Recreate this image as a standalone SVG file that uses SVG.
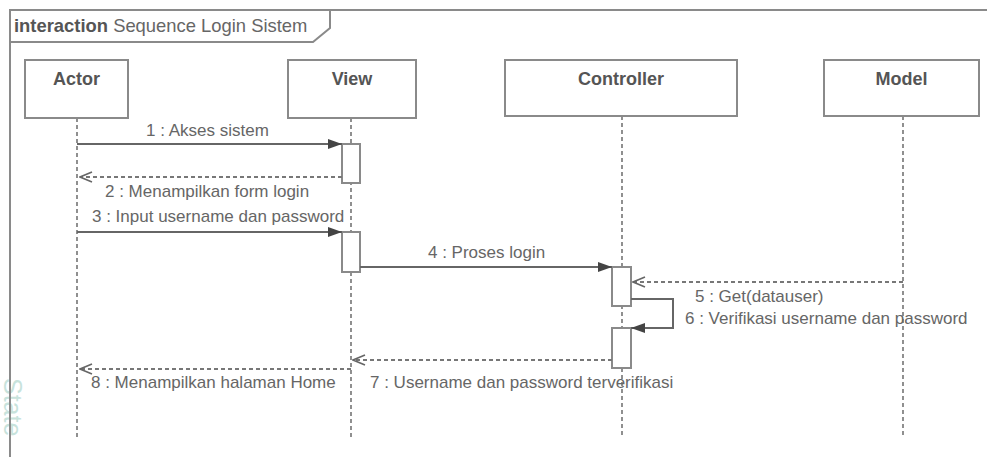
<svg xmlns="http://www.w3.org/2000/svg" width="987" height="457" viewBox="0 0 987 457">
<style>
text{font-family:"Liberation Sans",Arial,sans-serif;fill:#666}
.msg{font-size:17px}
.head{font-size:18px;font-weight:bold;fill:#555;text-anchor:middle}
.box{fill:#fff;stroke:#8a8a8a;stroke-width:2}
.life{stroke:#555;stroke-width:1.3;stroke-dasharray:4 3;fill:none}
.sync{stroke:#666;stroke-width:2;fill:none}
.ret{stroke:#777;stroke-width:2;stroke-dasharray:4 3;fill:none}
.act{fill:#fff;stroke:#8a8a8a;stroke-width:2}
.frame{fill:none;stroke:#8a8a8a;stroke-width:2}
</style>
<defs>
<marker id="fill" viewBox="0 0 14 10" refX="14" refY="5" markerWidth="14" markerHeight="10" markerUnits="userSpaceOnUse" orient="auto">
<path d="M0,0 L14,5 L0,10 Z" fill="#444"/>
</marker>
<marker id="open" viewBox="0 0 14 12" refX="13" refY="6" markerWidth="14" markerHeight="12" markerUnits="userSpaceOnUse" orient="auto">
<path d="M1,1 L13,6 L1,11" fill="none" stroke="#666" stroke-width="1.6"/>
</marker>
</defs>
<rect width="987" height="457" fill="#fff"/>
<text x="4" y="378" transform="rotate(90 4 378)" style="font-size:25px;fill:#c8e3dc">State</text>
<g id="frame">
<path class="frame" d="M10,457 V10 H990"/>
<path class="frame" d="M10,42 H313 L330,28 V10"/>
<text x="14" y="32" style="font-size:18.4px"><tspan style="font-weight:bold;fill:#555">interaction</tspan> Sequence Login Sistem</text>
</g>
<g id="lifelines">
<line class="life" x1="77" y1="118" x2="77" y2="438"/>
<line class="life" x1="351" y1="118" x2="351" y2="438"/>
<line class="life" x1="622" y1="116" x2="622" y2="438"/>
<line class="life" x1="903" y1="116" x2="903" y2="438"/>
</g>
<g id="actor"><rect class="box" x="25" y="60" width="103" height="58"/><text class="head" x="76.5" y="85">Actor</text></g>
<g id="view"><rect class="box" x="288" y="60" width="128" height="58"/><text class="head" x="352" y="85">View</text></g>
<g id="controller"><rect class="box" x="505" y="60" width="232" height="56"/><text class="head" x="621" y="85">Controller</text></g>
<g id="model"><rect class="box" x="824" y="60" width="155" height="56"/><text class="head" x="901.5" y="85">Model</text></g>
<g id="activations">
<rect class="act" x="342" y="144" width="18" height="39"/>
<rect class="act" x="342" y="232" width="18" height="40"/>
<rect class="act" x="612" y="267" width="19" height="39"/>
<rect class="act" x="612" y="328" width="19" height="40"/>
</g>
<g id="connectors">
<line class="sync" x1="77" y1="144" x2="342" y2="144" marker-end="url(#fill)"/>
<line class="ret" x1="342" y1="177" x2="80" y2="177" marker-end="url(#open)"/>
<line class="sync" x1="77" y1="232" x2="342" y2="232" marker-end="url(#fill)"/>
<line class="sync" x1="360" y1="267" x2="612" y2="267" marker-end="url(#fill)"/>
<line class="ret" x1="903" y1="282" x2="633" y2="282" marker-end="url(#open)"/>
<path class="sync" d="M631,299 H673 V328 H631" marker-end="url(#fill)"/>
<line class="ret" x1="612" y1="360" x2="353" y2="360" marker-end="url(#open)"/>
<line class="ret" x1="351" y1="369" x2="80" y2="369" marker-end="url(#open)"/>
</g>
<g id="labels">
<text class="msg" x="146" y="136">1 : Akses sistem</text>
<text class="msg" x="105" y="197">2 : Menampilkan form login</text>
<text class="msg" x="92" y="222">3 : Input username dan password</text>
<text class="msg" x="428" y="258">4 : Proses login</text>
<text class="msg" x="695" y="302">5 : Get(datauser)</text>
<text class="msg" x="685" y="324">6 : Verifikasi username dan password</text>
<text class="msg" x="370" y="388">7 : Username dan password terverifikasi</text>
<text class="msg" x="91" y="388">8 : Menampilkan halaman Home</text>
</g>
</svg>
